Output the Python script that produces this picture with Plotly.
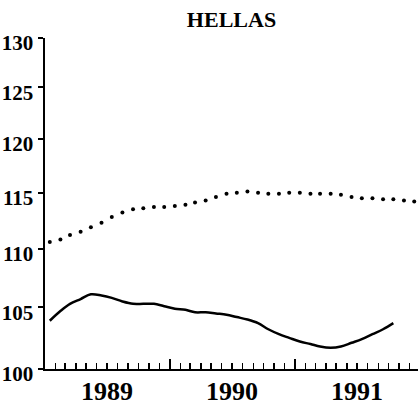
import plotly.graph_objects as go

# monthly observations (mid-month), Jan 1989 onwards
months_upper = [f"{y}-{m:02d}-15" for y in (1989, 1990, 1991) for m in range(1, 13)]
upper_values = [110.6, 110.8, 111.2, 111.5, 111.9, 112.3, 112.8, 113.2, 113.5, 113.6, 113.7, 113.7,
                113.8, 113.9, 114.1, 114.3, 114.6, 114.9, 115.0, 115.1, 115.0, 114.9, 114.9, 115.0,
                115.0, 114.9, 114.9, 114.9, 114.8, 114.6, 114.5, 114.5, 114.4, 114.4, 114.3, 114.2]

months_lower = months_upper[:34]
lower_values = [103.9, 104.7, 105.3, 105.7, 106.1, 106.0, 105.8, 105.5, 105.3, 105.3, 105.3, 105.1,
                104.9, 104.8, 104.6, 104.6, 104.5, 104.4, 104.2, 104.0, 103.7, 103.2, 102.8, 102.5,
                102.2, 102.0, 101.8, 101.7, 101.8, 102.1, 102.4, 102.8, 103.2, 103.7]

year_ticks = ["1989-01-01", "1990-01-01", "1991-01-01"]
year_labels = ["1989", "1990", "1991"]
y_ticks = [100, 105, 110, 115, 120, 125, 130]
title_text = "HELLAS"

label_font = dict(family="Liberation Serif, serif", color="black", weight="bold")
x_range = ["1989-01-01", "1991-12-26"]

fig = go.Figure()
fig.add_trace(go.Scatter(
    x=months_upper, y=upper_values, mode="markers",
    marker=dict(symbol="circle", size=4, color="black"),
    showlegend=False, hoverinfo="skip", xaxis="x", yaxis="y"))
fig.add_trace(go.Scatter(
    x=months_lower, y=lower_values, mode="lines",
    line=dict(color="black", width=2.5, shape="spline"),
    showlegend=False, hoverinfo="skip", xaxis="x2", yaxis="y"))

fig.update_layout(
    width=418, height=406,
    margin=dict(l=45, r=0, t=38, b=37),
    paper_bgcolor="white", plot_bgcolor="white",
    title=dict(text=f"<b>{title_text}</b>", x=0.5, xref="paper", xanchor="center",
               y=1 - 19.5 / 406, yref="container", yanchor="middle",
               font=dict(family="Liberation Serif, serif", size=22, color="black")),
    # monthly tick marks
    xaxis=dict(
        type="date", range=x_range, automargin=False,
        showline=True, linewidth=2, linecolor="black",
        showgrid=False, zeroline=False,
        tickmode="linear", tick0="1989-01-01", dtick="M1",
        ticks="inside", ticklen=6, tickwidth=1.5, tickcolor="black",
        showticklabels=False,
    ),
    # year boundaries with labels centred on each year
    xaxis2=dict(
        type="date", range=x_range, matches="x", overlaying="x", side="bottom",
        automargin=False, showline=False, showgrid=False, zeroline=False,
        tickmode="array", tickvals=year_ticks, ticktext=year_labels,
        ticks="inside", ticklen=10, tickwidth=1.5, tickcolor="black",
        ticklabelshift=62, ticklabelstandoff=4,
        tickfont=dict(size=26, **label_font),
    ),
    yaxis=dict(
        type="log", range=[2, 2.113943], automargin=False,
        showline=True, linewidth=2.5, linecolor="black",
        showgrid=False, zeroline=False,
        tickmode="array", tickvals=y_ticks, ticktext=[str(v) for v in y_ticks],
        ticks="outside", ticklen=5, tickwidth=2, tickcolor="black",
        ticklabelstandoff=0, ticklabelshift=5,
        tickfont=dict(size=21, **label_font),
    ),
)

fig.write_html(
    "out.html",
    config={"displayModeBar": False, "staticPlot": True},
    post_script="document.body.style.margin='0';document.body.style.overflow='hidden';",
)
